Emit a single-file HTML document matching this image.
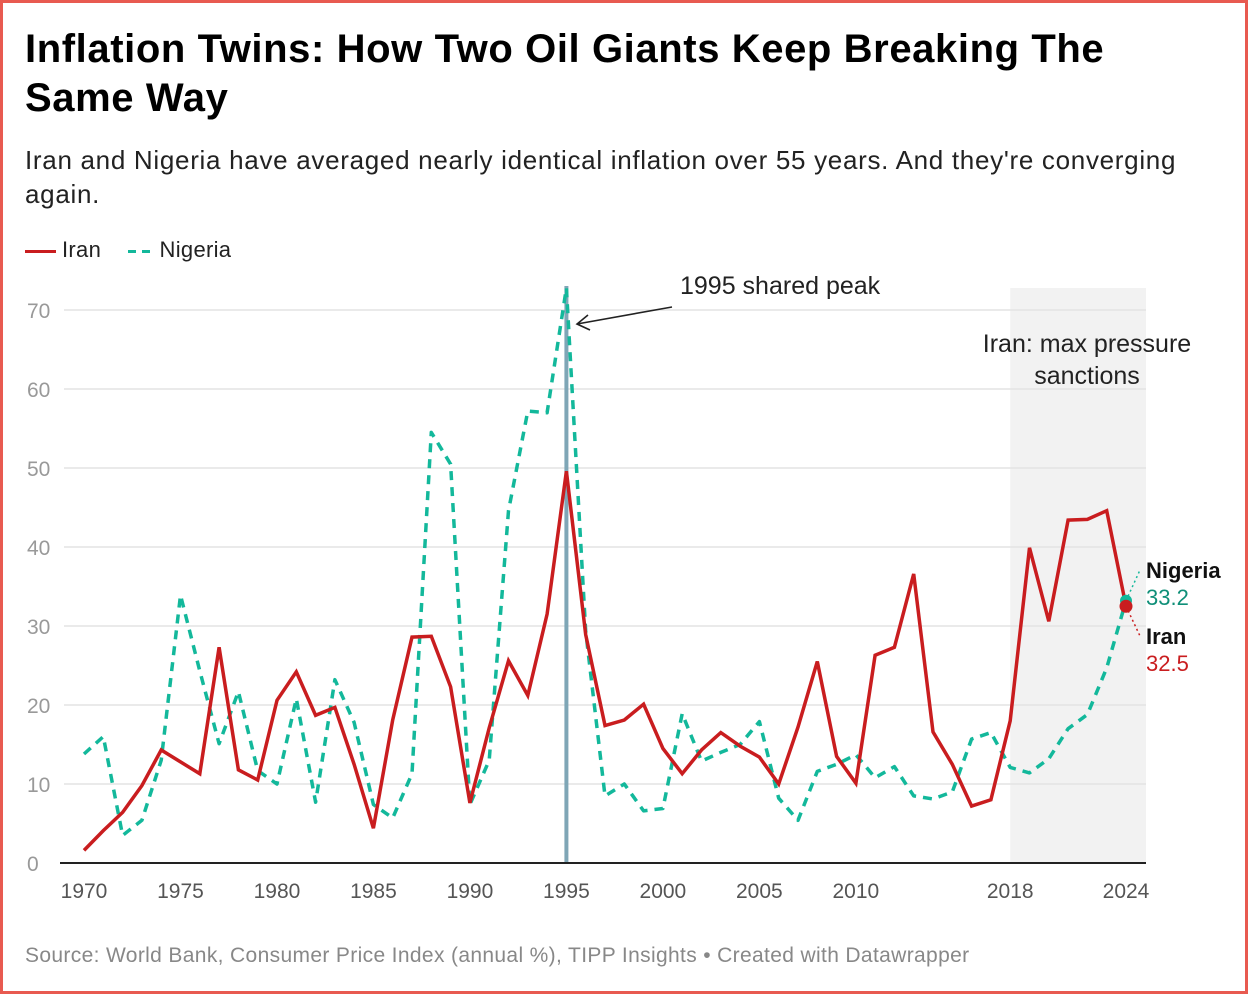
<!DOCTYPE html>
<html><head><meta charset="utf-8">
<style>
html,body{margin:0;padding:0;background:#fff;}
body{width:1248px;height:994px;position:relative;overflow:hidden;font-family:"Liberation Sans",Arial,sans-serif;}
.frame{position:absolute;left:0;top:0;width:1242px;height:988px;border:3px solid #e85a50;}
h1{position:absolute;left:25px;top:25px;margin:0;font-size:40px;line-height:49px;font-weight:bold;color:#000;letter-spacing:0.6px;white-space:nowrap;}
.sub{position:absolute;left:25px;top:143px;margin:0;font-size:26px;line-height:34px;color:#222;width:1195px;letter-spacing:0.7px;}
.legend{position:absolute;left:25px;top:237px;font-size:22px;color:#222;letter-spacing:0.3px;}
.src{position:absolute;left:25px;top:944px;font-size:21px;color:#888;letter-spacing:0.35px;}
svg{position:absolute;left:0;top:0;}
</style></head>
<body>
<div class="frame"></div>
<h1>Inflation Twins: How Two Oil Giants Keep Breaking The<br>Same Way</h1>
<p class="sub">Iran and Nigeria have averaged nearly identical inflation over 55 years. And they're converging again.</p>
<div class="legend">
<span><span style="display:inline-block;width:31px;height:3px;background:#c91d1f;vertical-align:middle;margin-right:6px"></span>Iran</span>
<span style="margin-left:20px"><span style="display:inline-block;width:8px;height:3px;background:#13b89b;vertical-align:middle;margin-right:6px"></span><span style="display:inline-block;width:8px;height:3px;background:#13b89b;vertical-align:middle;margin-right:10px"></span>Nigeria</span>
</div>
<div class="src">Source: World Bank, Consumer Price Index (annual %), TIPP Insights • Created with Datawrapper</div>
<svg id="chart" width="1248" height="994"></svg>
<script>
const years = [];
for (let y = 1970; y <= 2024; y++) years.push(y);
const iran = [1.6,4.1,6.4,9.8,14.3,12.8,11.3,27.3,11.8,10.5,20.6,24.2,18.7,19.7,12.5,4.4,18.1,28.6,28.7,22.3,7.6,17.1,25.6,21.2,31.5,49.6,28.9,17.4,18.1,20.1,14.5,11.3,14.3,16.5,14.8,13.4,10.0,17.2,25.5,13.5,10.1,26.3,27.3,36.6,16.6,12.5,7.2,8.0,18.0,39.9,30.6,43.4,43.5,44.6,32.5];
const nigeria = [13.8,16.0,3.5,5.4,13.0,33.9,24.3,15.1,21.7,11.7,10.0,20.8,7.7,23.2,17.8,7.4,5.7,11.3,54.5,50.5,7.4,13.0,44.6,57.2,57.0,72.8,29.3,8.5,10.0,6.6,6.9,18.9,12.9,14.0,15.0,17.9,8.2,5.4,11.6,12.5,13.7,10.8,12.2,8.5,8.1,9.0,15.7,16.5,12.1,11.4,13.2,17.0,18.8,24.7,33.2];
const yTicks = [0,10,20,30,40,50,60,70];
const xTicks = [1970,1975,1980,1985,1990,1995,2000,2005,2010,2018,2024];

const NS = "http://www.w3.org/2000/svg";
const svg = document.getElementById('chart');
const X = yr => 84 + (yr - 1970) * (1126 - 84) / 54;
const Y = v => 863 - v * (863 - 310) / 70;
function el(tag, attrs, parent) {
  const e = document.createElementNS(NS, tag);
  for (const k in attrs) e.setAttribute(k, attrs[k]);
  (parent || svg).appendChild(e);
  return e;
}
const band = el('rect', {x: X(2018), y: 288, width: 1146 - X(2018), height: 863 - 288, fill: '#f2f2f2'});


yTicks.forEach(t => {
  if (t > 0) {
    const g = el('line', {x1: 64, x2: 1146, y1: Y(t), y2: Y(t), stroke: '#e3e3e3', 'stroke-width': 1.5});
    
    
  }
  const tx = el('text', {x: 27, y: Y(t) + 8, 'font-size': 21, fill: '#999', 'font-family': 'Liberation Sans, sans-serif'});
  tx.textContent = t;
  
  
});
xTicks.forEach(t => {
  const tx = el('text', {x: X(t), y: 898, 'font-size': 21, fill: '#555', 'text-anchor': 'middle', 'font-family': 'Liberation Sans, sans-serif'});
  tx.textContent = t;
  
  
});
const vl = el('line', {x1: X(1995), x2: X(1995), y1: 286, y2: 863, stroke: '#7fa6b6', 'stroke-width': 4});


function pts(arr) { return arr.map((v, i) => X(years[i]).toFixed(1) + ',' + Y(v).toFixed(1)).join(' '); }
const nl = el('polyline', {points: pts(nigeria), fill: 'none', stroke: '#13b89b', 'stroke-width': 3.5, 'stroke-dasharray': '9 7', 'stroke-linejoin': 'round'});


const il = el('polyline', {points: pts(iran), fill: 'none', stroke: '#c91d1f', 'stroke-width': 3.5, 'stroke-linejoin': 'miter'});


const ax = el('line', {x1: 60, x2: 1146, y1: 863, y2: 863, stroke: '#222', 'stroke-width': 2});


const last = years.length - 1;
const nc = el('line', {x1: X(2024), y1: Y(nigeria[last]), x2: 1140, y2: 570, stroke: '#13b89b', 'stroke-width': 1.5, 'stroke-dasharray': '2 3'});


const ic = el('line', {x1: X(2024), y1: Y(iran[last]), x2: 1140, y2: 636, stroke: '#c91d1f', 'stroke-width': 1.5, 'stroke-dasharray': '2 3'});


const nd = el('circle', {cx: X(2024), cy: Y(nigeria[last]), r: 6, fill: '#13b89b'});


const idt = el('circle', {cx: X(2024), cy: Y(iran[last]), r: 6.5, fill: '#c91d1f'});


function txt(s, x, y, size, fill, weight, anchor, name) {
  const t = el('text', {x: x, y: y, 'font-size': size, fill: fill, 'font-weight': weight || 'normal', 'text-anchor': anchor || 'start', 'font-family': 'Liberation Sans, sans-serif'});
  t.textContent = s;
  
  
  return t;
}
txt('Nigeria', 1146, 578, 22, '#111', 'bold', 'start', 'nigeria-end-label');
txt(nigeria[last].toFixed(1), 1146, 605, 22, '#0f8f78', 'normal', 'start', 'nigeria-end-value');
txt('Iran', 1146, 644, 22, '#111', 'bold', 'start', 'iran-end-label');
txt(iran[last].toFixed(1), 1146, 671, 22, '#c91d1f', 'normal', 'start', 'iran-end-value');
txt('1995 shared peak', 680, 294, 25, '#222', 'normal', 'start', 'peak-annotation');
const ar = el('path', {d: 'M672,307 L577,324 M588,315 L577,324 L590,330', fill: 'none', stroke: '#222', 'stroke-width': 1.6});


txt('Iran: max pressure', 1087, 352, 25, '#222', 'normal', 'middle', 'sanctions-annotation-line1');
txt('sanctions', 1087, 384, 25, '#222', 'normal', 'middle', 'sanctions-annotation-line2');
</script>
</body></html>
